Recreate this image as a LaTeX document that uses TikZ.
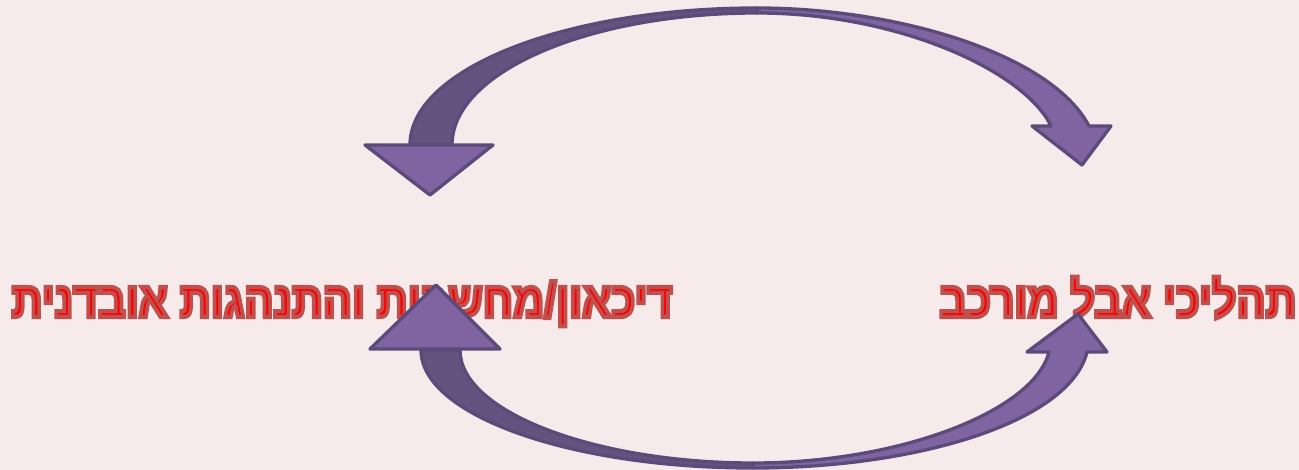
\documentclass[tikz,border=0pt]{standalone}
\usepackage{fontspec}
\usepackage{tikz}
\usetikzlibrary{positioning}
\TeXXeTstate=1
\newfontfamily\hebfont[Script=Hebrew]{Liberation Sans}
\definecolor{blush}{HTML}{F7EAEA}
\definecolor{grape}{HTML}{8064A2}
\definecolor{grapedark}{HTML}{65527F}
\definecolor{grapeline}{HTML}{5C4A7B}
% outline colour of the titles is C0504D = 0.753 0.314 0.302
\newcommand{\outlined}[1]{\scalebox{1}[1.15]{\special{pdf:literal 2 Tr 3.6 w 0.753 0.314 0.302 RG}#1\special{pdf:literal 0 Tr}}}
\tikzset{
  shaft/.style={draw=grapeline, fill=grapedark, line width=3.3pt, line join=round},
  shaftlt/.style={shaft, fill=grape},
  head/.style={draw=grapeline, fill=grape, line width=3.3pt, line join=round},
  heb/.style={font=\hebfont\bfseries\fontsize{43}{47}\selectfont, text=red, inner sep=0pt, anchor=base}
}
\begin{document}
\begin{tikzpicture}[x=1pt, y=-1pt]
 \fill[blush] (0,0) rectangle (1299,470);
 \useasboundingbox (0,0) rectangle (1299,470);
 \node[heb] (grief) at (1118,317) {\outlined{\beginR תהליכי אבל מורכב\endR}};
 \node[heb] (suicide) at (342,317) {\outlined{\beginR דיכאון/מחשבות והתנהגות אובדנית\endR}};
 % upper loop
 \coordinate (topout) at (757,8);
 \coordinate (topin) at (757,13);
 \draw[shaft] (410,145) .. controls (410,69) and (565,8) .. (topout) -- (topin) .. controls (589,13) and (452,72) .. (452,145) -- cycle;
 \draw[head] (365,145) -- (493,145) -- (430,195) -- cycle;
 \draw[shaftlt] (topout) .. controls (900,8) and (1052,55) .. (1089,126) -- (1111,126) -- (1082,165) -- (1032,126) -- (1051,126) .. controls (1025,72) and (900,13) .. (topin) -- cycle;
 % lower loop
 \coordinate (botout) at (753,468);
 \coordinate (botin) at (753,463);
 \draw[shaft] (421,350) .. controls (421,415) and (570,468) .. (botout) -- (botin) .. controls (595,463) and (460,412) .. (460,350) -- cycle;
 \draw[head] (370,349) -- (500,349) -- (436,285) -- cycle;
 \draw[shaftlt] (botout) .. controls (920,468) and (1070,421) .. (1087,352) -- (1107,352) -- (1078,314) -- (1027,352) -- (1049,352) .. controls (1034,411) and (900,463) .. (botin) -- cycle;
\end{tikzpicture}
\end{document}
